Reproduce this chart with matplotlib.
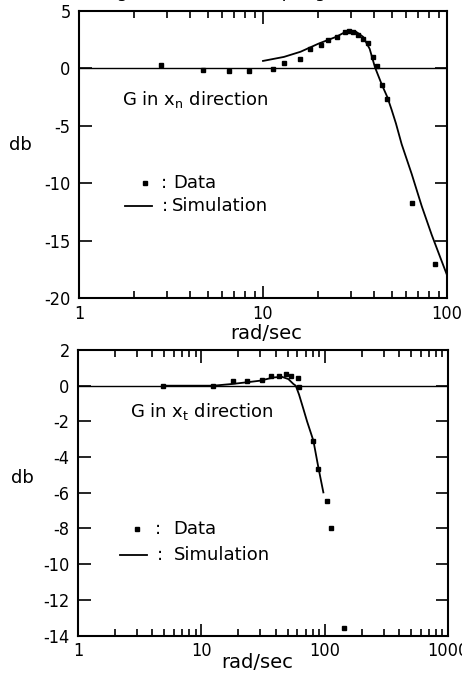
import numpy as np
import matplotlib.pyplot as plt
from matplotlib.ticker import LogLocator, FixedLocator, NullFormatter

plt.rcParams['font.family'] = 'DejaVu Sans'
plt.rcParams['axes.unicode_minus'] = False

# upper panel: G in x_n direction
freq_n_data = [2.8, 4.7, 6.5, 8.4, 11.3, 13.0, 15.9, 17.9, 20.6, 22.6, 25.2, 27.9,
               29.4, 30.7, 33.0, 35.1, 37.4, 39.8, 41.8, 44.2, 47.4, 64.8, 86.6]
db_n_data = [0.3, -0.15, -0.2, -0.22, -0.05, 0.45, 0.8, 1.7, 2.0, 2.45, 2.7, 3.15,
             3.3, 3.2, 2.9, 2.6, 2.2, 1.0, 0.2, -1.45, -2.7, -11.7, -17.0]
freq_n_sim = [10.0, 13.0, 16.0, 20.0, 25.0, 29.0, 32.0, 35.0, 38.0, 40.6, 42.0,
              44.2, 47.4, 50.0, 52.8, 56.7, 64.3, 72.9, 82.6, 91.6, 100.0]
db_n_sim = [0.65, 1.0, 1.45, 2.15, 2.75, 3.3, 3.2, 2.75, 1.7, 0.1, -0.5,
            -1.4, -2.5, -3.6, -4.8, -6.6, -9.2, -12.0, -14.5, -16.4, -18.0]

# lower panel: G in x_t direction
freq_t_data = [4.9, 12.5, 18.2, 23.4, 30.9, 36.5, 42.9, 48.6, 53.1, 61.2, 62.0,
               80.0, 88.9, 104.0, 112.8, 144.5]
db_t_data = [0.0, 0.0, 0.28, 0.28, 0.32, 0.52, 0.52, 0.63, 0.52, 0.42, -0.1,
             -3.08, -4.67, -6.45, -7.95, -13.6]
freq_t_sim = [4.9, 8.0, 12.5, 18.0, 24.0, 29.9, 38.4, 44.9, 50.8, 55.7, 58.3,
              62.0, 67.2, 72.0, 81.0, 88.9, 97.6]
db_t_sim = [0.0, 0.0, 0.0, 0.1, 0.2, 0.28, 0.46, 0.5, 0.37, 0.1, 0.0,
            -0.5, -1.3, -2.0, -3.08, -4.58, -5.98]

fs = 13

fig = plt.figure(figsize=(4.62, 6.74), dpi=100)

fig.text(0.705, 1.012, "Magnitude of the coupling", ha='right', va='center', fontsize=fs)


def style_axis(ax, xmax, ylo, yhi, ystep):
    ax.set_xscale('log')
    ax.set_xlim(1, xmax)
    ax.set_ylim(ylo, yhi)
    ax.axhline(0, color='black', lw=1.0, zorder=1)
    ax.xaxis.set_minor_locator(LogLocator(base=10, subs=np.arange(2, 10)))
    ax.xaxis.set_minor_formatter(NullFormatter())
    decades = [10 ** k for k in range(int(round(np.log10(xmax))) + 1)]
    ax.set_xticks(decades)
    ax.set_xticklabels([str(d) for d in decades])
    ax.yaxis.set_major_locator(FixedLocator(np.arange(ylo, yhi + 0.1, ystep)))
    ax.set_yticklabels([str(int(v)) for v in np.arange(ylo, yhi + 0.1, ystep)])
    ax.tick_params(which='both', direction='in', top=True, right=True, labelsize=fs, width=1.2)
    ax.tick_params(which='major', length=9)
    ax.tick_params(which='minor', length=5)
    ax.tick_params(axis='x', which='major', pad=5)
    ax.tick_params(axis='y', which='major', pad=6)
    for lab in ax.get_xticklabels() + ax.get_yticklabels():
        lab.set_stretch('condensed')
    for sp in ax.spines.values():
        sp.set_linewidth(1.5)
    ax.set_xlabel("rad/sec", fontsize=fs + 1, va='center')
    ax.set_ylabel("db", fontsize=fs, rotation=0, va='center', ha='center')


# top panel
ax1 = fig.add_axes([0.171, 0.5579, 0.7965, 0.4258])
style_axis(ax1, 100, -20, 5, 5)
ax1.yaxis.set_label_coords(-0.16, 0.533)
ax1.xaxis.set_label_coords(0.508, -0.125)
ax1.plot(freq_n_sim, db_n_sim, color='black', lw=1.3)
ax1.plot(freq_n_data, db_n_data, 's', color='black', ms=3.2)
ax1.text(0.117, 0.693, r"G in x$_\mathregular{n}$ direction", transform=ax1.transAxes,
         fontsize=fs, va='center')
ax1.plot([0.179], [0.40], 's', color='black', ms=3.2, transform=ax1.transAxes)
ax1.text(0.222, 0.40, ":", transform=ax1.transAxes, fontsize=fs, va='center')
ax1.text(0.255, 0.40, "Data", transform=ax1.transAxes, fontsize=fs, va='center')
ax1.plot([0.125, 0.198], [0.32, 0.32], color='black', lw=1.3, transform=ax1.transAxes)
ax1.text(0.225, 0.32, ":", transform=ax1.transAxes, fontsize=fs, va='center')
ax1.text(0.252, 0.32, "Simulation", transform=ax1.transAxes, fontsize=fs, va='center')

# bottom panel
ax2 = fig.add_axes([0.1688, 0.0571, 0.8009, 0.4236])
style_axis(ax2, 1000, -14, 2, 2)
ax2.yaxis.set_label_coords(-0.149, 0.552)
ax2.xaxis.set_label_coords(0.484, -0.096)
ax2.plot(freq_t_sim, db_t_sim, color='black', lw=1.3)
ax2.plot(freq_t_data, db_t_data, 's', color='black', ms=3.2)
ax2.text(0.141, 0.785, r"G in x$_\mathregular{t}$ direction", transform=ax2.transAxes,
         fontsize=fs, va='center')
ax2.plot([0.159], [0.372], 's', color='black', ms=3.2, transform=ax2.transAxes)
ax2.text(0.208, 0.372, ":", transform=ax2.transAxes, fontsize=fs, va='center')
ax2.text(0.258, 0.372, "Data", transform=ax2.transAxes, fontsize=fs, va='center')
ax2.plot([0.1135, 0.186], [0.282, 0.282], color='black', lw=1.3, transform=ax2.transAxes)
ax2.text(0.213, 0.282, ":", transform=ax2.transAxes, fontsize=fs, va='center')
ax2.text(0.258, 0.282, "Simulation", transform=ax2.transAxes, fontsize=fs, va='center')

fig.savefig("out.png", dpi=100)
